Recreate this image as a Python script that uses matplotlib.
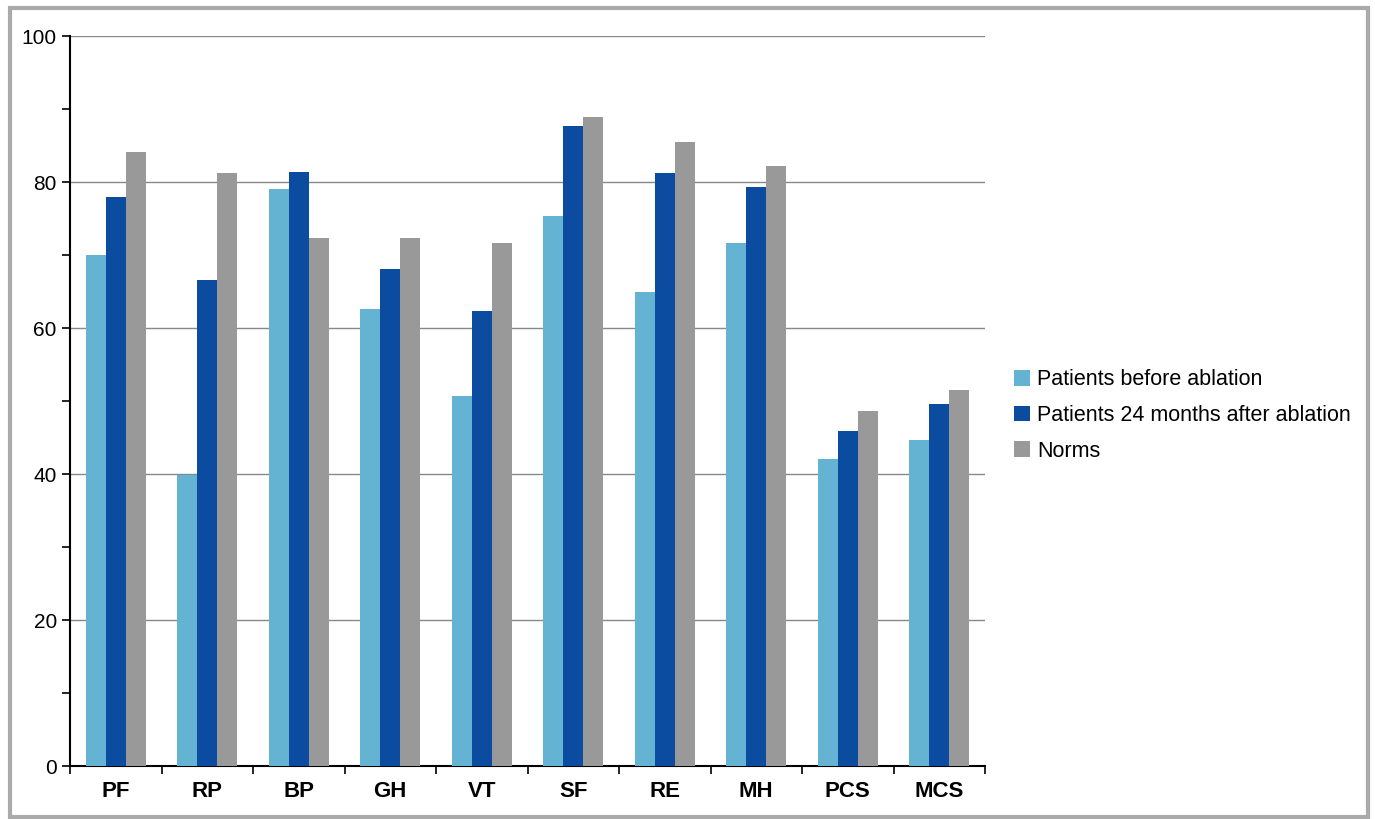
import matplotlib.pyplot as plt
import numpy as np
from matplotlib.patches import Rectangle
from matplotlib.ticker import MultipleLocator

plt.rcParams['font.family'] = ['Liberation Sans', 'DejaVu Sans']

categories = ['PF', 'RP', 'BP', 'GH', 'VT', 'SF', 'RE', 'MH', 'PCS', 'MCS']
before = [70.0, 39.9, 79.0, 62.6, 50.7, 75.3, 64.9, 71.6, 42.1, 44.7]
after24 = [77.9, 66.6, 81.4, 68.1, 62.3, 87.7, 81.2, 79.3, 45.9, 49.6]
norms = [84.1, 81.2, 72.3, 72.3, 71.6, 88.9, 85.5, 82.2, 48.6, 51.5]

series = [
    ('Patients before ablation', before, '#65b3d3'),
    ('Patients 24 months after ablation', after24, '#0b4ca0'),
    ('Norms', norms, '#999999'),
]

W, H = 1375, 819
fig = plt.figure(figsize=(W / 100, H / 100), dpi=100)
ax = fig.add_axes([70 / W, 1 - 766 / H, (985 - 70) / W, (766 - 36) / H])

x = np.arange(len(categories))
bw = 0.22
for i, (label, vals, color) in enumerate(series):
    ax.bar(x + (i - 1) * bw, vals, bw, color=color, label=label, zorder=3)

ax.set_xlim(-0.5, len(categories) - 0.5)
ax.set_ylim(0, 100)
ax.yaxis.set_major_locator(MultipleLocator(20))
ax.yaxis.set_minor_locator(MultipleLocator(10))
ax.grid(axis='y', which='major', color='#888888', linewidth=1, zorder=0)

ax.set_xticks(x)
ax.set_xticklabels(categories, fontsize=16, fontweight='bold')
ax.set_xticks(np.arange(len(categories) + 1) - 0.5, minor=True)
ax.tick_params(axis='x', which='major', length=0, pad=11)
ax.tick_params(axis='x', which='minor', length=6, width=1.2)
ax.tick_params(axis='y', which='major', length=6, width=1.2, labelsize=15)
ax.tick_params(axis='y', which='minor', length=6, width=1.2)

for s in ['top', 'right']:
    ax.spines[s].set_visible(False)
for s in ['left', 'bottom']:
    ax.spines[s].set_linewidth(1.5)

ax.legend(loc='center left', bbox_to_anchor=(1.01, 0.48), frameon=False,
          fontsize=15.5, handlelength=0.75, handleheight=0.75, handletextpad=0.35,
          labelspacing=0.68)

fig.patches.append(Rectangle((10 / W, 2 / H), (1368 - 10) / W, (819 - 10) / H,
                             transform=fig.transFigure, fill=False,
                             edgecolor='#aaaaaa', linewidth=3))

fig.savefig('out.png', dpi=100)
